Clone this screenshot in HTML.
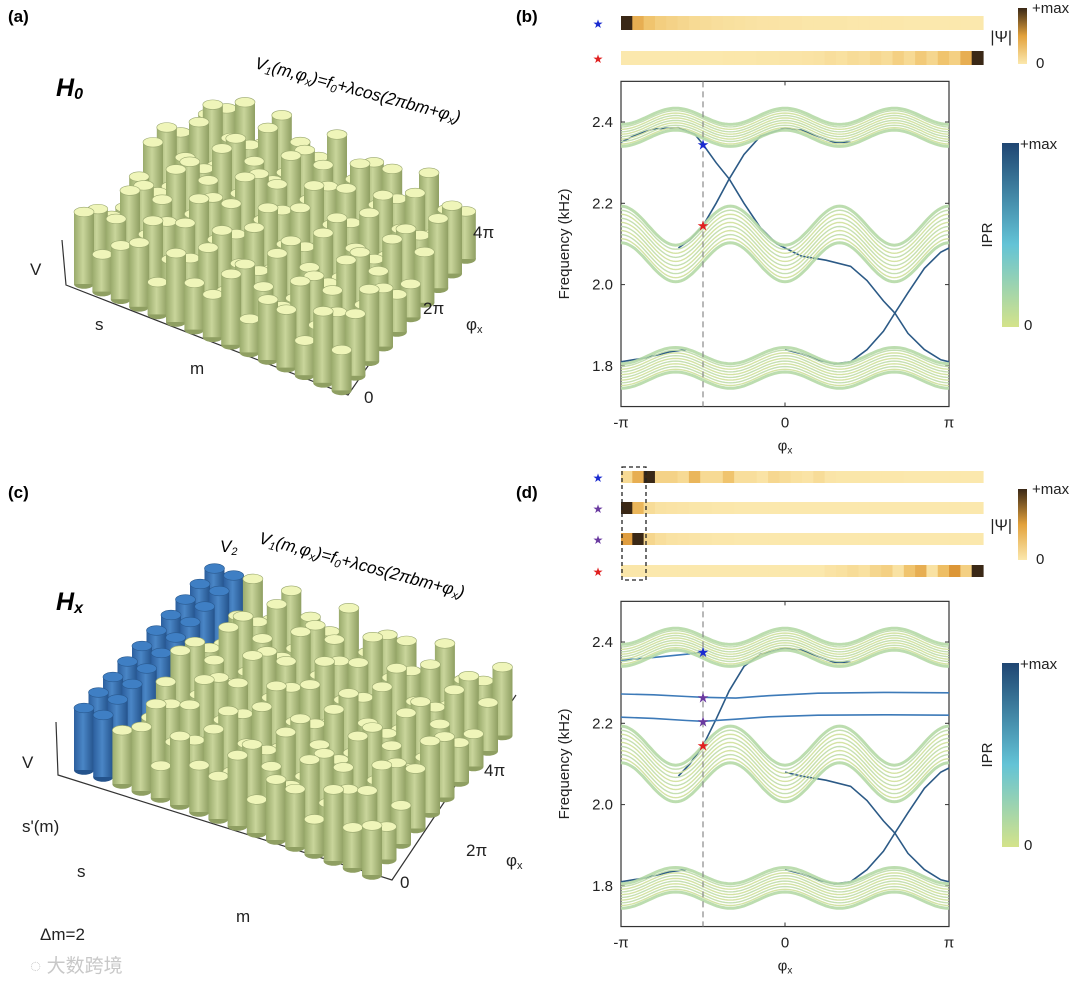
<!DOCTYPE html>
<html><head><meta charset="utf-8">
<style>
html,body{margin:0;padding:0;background:#fff;}
body{width:1080px;height:983px;overflow:hidden;position:relative;font-family:"Liberation Sans","Noto Sans CJK SC",sans-serif;}
svg{position:absolute;left:0;top:0;}
</style></head>
<body>
<svg id="fig" width="1080" height="983" viewBox="0 0 1080 983" xmlns="http://www.w3.org/2000/svg" font-family="Liberation Sans, sans-serif">
<defs>
<linearGradient id="cylG" x1="0" x2="1" y1="0" y2="0"><stop offset="0" stop-color="#9aab6c"/><stop offset="0.45" stop-color="#c9d59b"/><stop offset="1" stop-color="#8f9f62"/></linearGradient>
<linearGradient id="cylB" x1="0" x2="1" y1="0" y2="0"><stop offset="0" stop-color="#2c5f9e"/><stop offset="0.45" stop-color="#4a86c6"/><stop offset="1" stop-color="#24538c"/></linearGradient>
<linearGradient id="psiG" x1="0" x2="0" y1="1" y2="0"><stop offset="0" stop-color="#fbe8ad"/><stop offset="0.5" stop-color="#e3a23c"/><stop offset="1" stop-color="#3a2816"/></linearGradient>
<linearGradient id="iprG" x1="0" x2="0" y1="1" y2="0"><stop offset="0" stop-color="#d4e38a"/><stop offset="0.45" stop-color="#63c3d6"/><stop offset="1" stop-color="#1f4672"/></linearGradient>
</defs>
<g id="panelA"></g>
<g id="panelC"></g>
<g id="panelB"></g>
<g id="panelD"></g>

<text x="8" y="22" font-size="17" font-weight="bold">(a)</text>
<text x="516" y="22" font-size="17" font-weight="bold">(b)</text>
<text x="8" y="498" font-size="17" font-weight="bold">(c)</text>
<text x="516" y="498" font-size="17" font-weight="bold">(d)</text>
<text x="56" y="96" font-size="25" font-weight="bold" font-style="italic">H<tspan font-size="16" dy="3">0</tspan></text>
<text x="56" y="610" font-size="25" font-weight="bold" font-style="italic">H<tspan font-size="16" dy="3">x</tspan></text>
<text transform="translate(254,68) rotate(15)" font-size="17" font-style="italic">V<tspan font-size="11" dy="3">1</tspan><tspan dy="-3">(m,φ</tspan><tspan font-size="11" dy="3">x</tspan><tspan dy="-3">)=f</tspan><tspan font-size="11" dy="3">0</tspan><tspan dy="-3">+λcos(2πbm+φ</tspan><tspan font-size="11" dy="3">x</tspan><tspan dy="-3">)</tspan></text>
<text transform="translate(258,543) rotate(15)" font-size="17" font-style="italic">V<tspan font-size="11" dy="3">1</tspan><tspan dy="-3">(m,φ</tspan><tspan font-size="11" dy="3">x</tspan><tspan dy="-3">)=f</tspan><tspan font-size="11" dy="3">0</tspan><tspan dy="-3">+λcos(2πbm+φ</tspan><tspan font-size="11" dy="3">x</tspan><tspan dy="-3">)</tspan></text>
<text x="220" y="552" font-size="17" font-style="italic">V<tspan font-size="11" dy="3">2</tspan></text>
<g font-size="17" fill="#222">
<text x="30" y="275">V</text>
<text x="95" y="330">s</text>
<text x="190" y="374">m</text>
<text x="364" y="403">0</text>
<text x="423" y="314">2π</text>
<text x="473" y="238">4π</text>
<text x="466" y="330">φ<tspan font-size="11" dy="3">x</tspan></text>
<text x="22" y="768">V</text>
<text x="22" y="832">s'(m)</text>
<text x="77" y="877">s</text>
<text x="236" y="922">m</text>
<text x="400" y="888">0</text>
<text x="466" y="856">2π</text>
<text x="484" y="776">4π</text>
<text x="506" y="866">φ<tspan font-size="11" dy="3">x</tspan></text>
<text x="40" y="940">Δm=2</text>
</g>
<text x="30" y="972" font-size="19" fill="#c8c8c8" font-family="Liberation Sans, Noto Sans CJK SC, sans-serif">◌ 大数跨境</text>
</svg>
<script>
var bandTop = {base:2.36, amp:0.02, step:0.006};
var bandMid = {base:2.055, amp:-0.048, step:0.01};
var bandLow = {base:1.765, amp:0.02, step:0.0067};
var bandLines = [0,1,2,3,4,5,6,7,8,9];
var yTicks = [1.8, 2.0, 2.2, 2.4];
var yTickLabels = ["1.8","2.0","2.2","2.4"];
var xTicks = [-1, 0, 1];
var xTickLabels = ["-π","0","π"];
var edge1 = [[-1,2.35],[-0.9,2.37],[-0.8,2.383],[-0.65,2.386],[-0.55,2.37],[-0.5,2.345],[-0.42,2.3],[-0.34,2.26],[-0.25,2.2],[-0.15,2.14],[-0.05,2.1],[0.1,2.07],[0.25,2.06],[0.4,2.045],[0.5,2.01],[0.6,1.96],[0.67,1.93],[0.75,1.88],[0.85,1.84],[0.95,1.815],[1,1.81]];
var edge2 = [[-0.65,2.09],[-0.58,2.11],[-0.5,2.145],[-0.42,2.2],[-0.34,2.26],[-0.25,2.32],[-0.15,2.365],[0,2.385],[0.1,2.38],[0.2,2.365],[0.3,2.35],[0.4,2.35]];
var edge3 = [[0,1.84],[0.1,1.83],[0.2,1.815],[0.3,1.805],[0.4,1.81],[0.5,1.84],[0.6,1.885],[0.67,1.93],[0.75,1.98],[0.85,2.04],[0.95,2.08],[1,2.09]];
var edge4 = [[-1,1.81],[-0.85,1.82],[-0.7,1.835],[-0.6,1.84]];
var edge1d = [[0,2.08],[0.1,2.07],[0.25,2.06],[0.4,2.045],[0.5,2.01],[0.6,1.96],[0.67,1.93],[0.75,1.88],[0.85,1.84],[0.95,1.815],[1,1.81]];
var edge2d = [[-0.65,2.07],[-0.58,2.1],[-0.5,2.145],[-0.42,2.21],[-0.34,2.28],[-0.25,2.34],[-0.15,2.37],[0,2.385],[0.1,2.38],[0.2,2.365],[0.3,2.35],[0.4,2.35]];
var edgeTopLeftD = [[-1,2.355],[-0.8,2.362],[-0.6,2.37],[-0.5,2.375]];
var flatUpper = [[-1,2.272],[-0.8,2.27],[-0.6,2.266],[-0.5,2.264],[-0.3,2.262],[-0.1,2.268],[0.2,2.274],[0.6,2.276],[1,2.275]];
var flatLower = [[-1,2.215],[-0.8,2.212],[-0.6,2.207],[-0.5,2.205],[-0.3,2.21],[-0.1,2.216],[0.2,2.22],[0.6,2.221],[1,2.22]];
var starsB = [[-0.5,2.345,"#1a2bd0"],[-0.5,2.145,"#e02020"]];
var starsD = [[-0.5,2.375,"#1a2bd0"],[-0.5,2.264,"#6a3aa0"],[-0.5,2.205,"#6a3aa0"],[-0.5,2.145,"#e02020"]];
var psiB1 = [1,0.45,0.3,0.22,0.18,0.15,0.12,0.1,0.08,0.07,0.06,0.05,0.04,0.04,0.03,0.03,0.02,0.02,0.02,0.02,0.01,0.01,0.01,0.01,0.01,0,0,0,0,0,0,0];
var psiB2 = [0,0,0,0,0,0,0,0,0,0.01,0.01,0.01,0.02,0.02,0.03,0.03,0.04,0.05,0.08,0.06,0.1,0.08,0.14,0.1,0.2,0.12,0.25,0.15,0.3,0.2,0.45,1];
var psiD1 = [0.12,0.45,1,0.18,0.18,0.12,0.4,0.12,0.12,0.3,0.08,0.08,0.04,0.14,0.1,0.06,0.04,0.1,0.03,0.02,0.02,0.02,0.01,0.01,0.01,0,0,0,0,0,0,0];
var psiD2 = [1,0.4,0.1,0.05,0.04,0.03,0.02,0.02,0.01,0.01,0,0,0,0,0,0,0,0,0,0,0,0,0,0,0,0,0,0,0,0,0,0];
var psiD3 = [0.55,1,0.15,0.08,0.05,0.04,0.03,0.02,0.01,0.01,0,0,0,0,0,0,0,0,0,0,0,0,0,0,0,0,0,0,0,0,0,0];
var psiD4 = [0.02,0.02,0,0,0,0,0,0,0,0,0,0,0,0,0,0,0,0,0.04,0.06,0.1,0.06,0.15,0.2,0.05,0.3,0.45,0.05,0.35,0.6,0.2,1];

var NS = "http://www.w3.org/2000/svg";
function mk(tag, attrs, parent){var e=document.createElementNS(NS,tag);for(var k in attrs)e.setAttribute(k,attrs[k]);parent.appendChild(e);return e;}
function lerp(a,b,t){return a+(b-a)*t;}
function mixColor(stops,t){t=Math.max(0,Math.min(1,t));for(var i=1;i<stops.length;i++){if(t<=stops[i][0]){var s=stops[i-1],e=stops[i];var u=(t-s[0])/(e[0]-s[0]);return "rgb("+Math.round(lerp(s[1],e[1],u))+","+Math.round(lerp(s[2],e[2],u))+","+Math.round(lerp(s[3],e[3],u))+")";}}return "rgb(0,0,0)";}
var psiStops=[[0,251,232,173],[0.35,238,190,100],[0.6,220,150,55],[0.8,150,85,30],[1,58,40,22]];

function plotPanel(g, top, bottomTicks, stars, edges, blueEdges){
  var X0=621,X1=949;
  var y24=top, ppu=(81.3/0.2);
  function xs(p){return X0+(p+1)/2*(X1-X0);}
  function ys(f){return y24+(2.4-f)*ppu;}
  var yTop=ys(2.5), yBot=ys(1.7);
  var ax=mk('g',{},g);
  
  
  mk('rect',{x:X0,y:yTop,width:X1-X0,height:yBot-yTop,fill:'none',stroke:'#333','stroke-width':1.2},ax);
  yTicks.forEach(function(v,i){
    var t=mk('text',{x:X0-8,y:ys(v)+5,'font-size':15,'text-anchor':'end',fill:'#222'},ax);t.textContent=yTickLabels[i];
    
    
    mk('line',{x1:X0,x2:X0+4,y1:ys(v),y2:ys(v),stroke:'#333'},ax);
    mk('line',{x1:X1,x2:X1-4,y1:ys(v),y2:ys(v),stroke:'#333'},ax);
  });
  xTicks.forEach(function(v,i){
    var t=mk('text',{x:xs(v),y:yBot+21,'font-size':15,'text-anchor':'middle',fill:'#222'},ax);t.textContent=xTickLabels[i];
    
    
    mk('line',{x1:xs(v),x2:xs(v),y1:yTop,y2:yTop+4,stroke:'#333'},ax);
    mk('line',{x1:xs(v),x2:xs(v),y1:yBot,y2:yBot-4,stroke:'#333'},ax);
  });
  var yl=mk('text',{transform:'translate('+(X0-52)+','+((yTop+yBot)/2)+') rotate(-90)','font-size':15,'text-anchor':'middle',fill:'#222'},ax);yl.textContent='Frequency (kHz)';
  
  
  var xl=mk('text',{x:(X0+X1)/2,y:yBot+44,'font-size':15,'text-anchor':'middle',fill:'#222'},ax);xl.textContent='φ';
  var sub=mk('tspan',{'font-size':10,dy:3},xl);sub.textContent='x';
  
  
  edges.forEach(function(pts){
    var d=pts.map(function(p,i){return (i?'L':'M')+xs(p[0]).toFixed(1)+','+ys(p[1]).toFixed(1);}).join(' ');
    var pe=mk('path',{d:d,fill:'none',stroke:'#2c5a86','stroke-width':1.6},g);
    
    
  });
  blueEdges.forEach(function(pts){
    var d=pts.map(function(p,i){return (i?'L':'M')+xs(p[0]).toFixed(1)+','+ys(p[1]).toFixed(1);}).join(' ');
    var pe=mk('path',{d:d,fill:'none',stroke:'#3d7ab8','stroke-width':1.6},g);
    
    
  });
  [bandTop,bandMid,bandLow].forEach(function(b,bi){
    var bg=mk('g',{},g);
    
    
    bandLines.forEach(function(i){
      var d='';
      for(var k=0;k<=120;k++){var p=-1+2*k/120;var f=b.base+b.amp*Math.cos(3*p*Math.PI)+i*b.step;d+=(k?'L':'M')+xs(p).toFixed(1)+','+ys(f).toFixed(1);}
      var edge=(i==0||i==9);
      var c=edge?'#b5d9a6':(i%2?'#cfe09a':'#bfdca8');
      var pl=mk('path',{d:d,fill:'none',stroke:c,'stroke-width':edge?3:1.4,opacity:0.9},bg);
      
      
    });
  });
  var dl=mk('line',{x1:xs(-0.5),x2:xs(-0.5),y1:yTop,y2:yBot,stroke:'#888','stroke-width':1.2,'stroke-dasharray':'6,4'},g);
  
  
  stars.forEach(function(s){
    var st=mk('text',{x:xs(s[0]),y:ys(s[1])+5,'font-size':14,'text-anchor':'middle',fill:s[2]},g);st.textContent='★';
    
    
  });
  var cb=mk('g',{},g);
  
  
  var cTop=top+21, cBot=top+205;
  mk('rect',{x:1002,y:cTop,width:17,height:cBot-cTop,fill:'url(#iprG)'},cb);
  var t1=mk('text',{x:1020,y:cTop+6,'font-size':15,fill:'#222'},cb);t1.textContent='+max';
  var t2=mk('text',{x:1024,y:cBot+3,'font-size':15,fill:'#222'},cb);t2.textContent='0';
  var t3=mk('text',{transform:'translate(992,'+((cTop+cBot)/2)+') rotate(-90)','font-size':15,'text-anchor':'middle',fill:'#222'},cb);t3.textContent='IPR';
}

function psiRows(g, rows, ys, h, starColors, cb){
  var X0=621,X1=983;
  rows.forEach(function(vals,r){
    var rg=mk('g',{},g);
    
    
    var w=(X1-X0)/vals.length;
    vals.forEach(function(v,i){
      var c=mk('rect',{x:(X0+i*w).toFixed(2),y:ys[r],width:(w+0.6).toFixed(2),height:h,fill:mixColor(psiStops,v)},rg);
      
      
    });
    var st=mk('text',{x:598,y:ys[r]+h/2+5,'font-size':12,'text-anchor':'middle',fill:starColors[r]},rg);st.textContent='★';
  });
  var cg=mk('g',{},g);
  
  
  mk('rect',{x:1018,y:cb[0],width:9,height:cb[1]-cb[0],fill:'url(#psiG)'},cg);
  var a=mk('text',{x:1032,y:cb[0]+5,'font-size':15,fill:'#222'},cg);a.textContent='+max';
  var b=mk('text',{x:1036,y:cb[1]+4,'font-size':15,fill:'#222'},cg);b.textContent='0';
  var c=mk('text',{x:1012,y:(cb[0]+cb[1])/2+6,'font-size':16,'text-anchor':'end',fill:'#222'},cg);c.textContent='|Ψ|';
}

var gB=document.getElementById('panelB'), gD=document.getElementById('panelD');
plotPanel(gB,122,null,starsB,[edge1,edge2,edge3,edge4],[]);
psiRows(gB,[psiB1,psiB2],[16,51],14,['#1a2bd0','#e02020'],[8,64]);
plotPanel(gD,642,null,starsD,[edge1d,edge2d,edge3,edge4],[edgeTopLeftD,flatUpper,flatLower]);
psiRows(gD,[psiD1,psiD2,psiD3,psiD4],[471,502,533,565],12,['#1a2bd0','#6a3aa0','#6a3aa0','#e02020'],[489,560]);
var box=mk('rect',{x:622,y:467,width:24,height:113,fill:'none',stroke:'#222','stroke-width':1.3,'stroke-dasharray':'4,3'},gD);



function lattice(g, O, u, v, nm, nj, axisPts, blueCols){
  var ax=mk('g',{},g);
  
  
  mk('polyline',{points:axisPts,fill:'none',stroke:'#333','stroke-width':1.2},ax);
  var items=[];
  for(var j=0;j<nj;j++)for(var m=0;m<nm;m++){
    var x=O[0]+m*u[0]+j*v[0], y=O[1]+m*u[1]+j*v[1];
    var blue=blueCols && m<blueCols;
    var h=blue?62:(52+20*Math.cos(2*Math.PI*0.618*m + j*0.57*2));
    items.push({x:x,y:y,h:h,blue:blue,j:j});
  }
  items.sort(function(a,b){return a.y-b.y;});
  var r=10, ry=4.8;
  items.forEach(function(it){
    var cg=mk('g',{},g);
    
    
    if(it.j===0&&!it.blue) mk('rect',{x:it.x-5,y:it.y-1,width:10,height:5,fill:'#3fd13f'},cg);
    mk('ellipse',{cx:it.x,cy:it.y,rx:r,ry:ry,fill:it.blue?'#24538c':'#8f9f62'},cg);
    mk('rect',{x:it.x-r,y:it.y-it.h,width:2*r,height:it.h,fill:it.blue?'url(#cylB)':'url(#cylG)'},cg);
    mk('ellipse',{cx:it.x,cy:it.y-it.h,rx:r,ry:ry,fill:it.blue?'#3f7fc4':'#eff5b9',stroke:it.blue?'#2a5a90':'#9aa870','stroke-width':0.6},cg);
  });
}
lattice(document.getElementById('panelA'),[84,284],[18.4,7.6],[13.8,-14.6],15,10,'62,240 66,285 348,395 470,218',0);
lattice(document.getElementById('panelC'),[84,770],[19.2,7.0],[14.5,-15.5],16,10,'56,722 58,775 392,880 516,695',2);
</script>
</body></html>
